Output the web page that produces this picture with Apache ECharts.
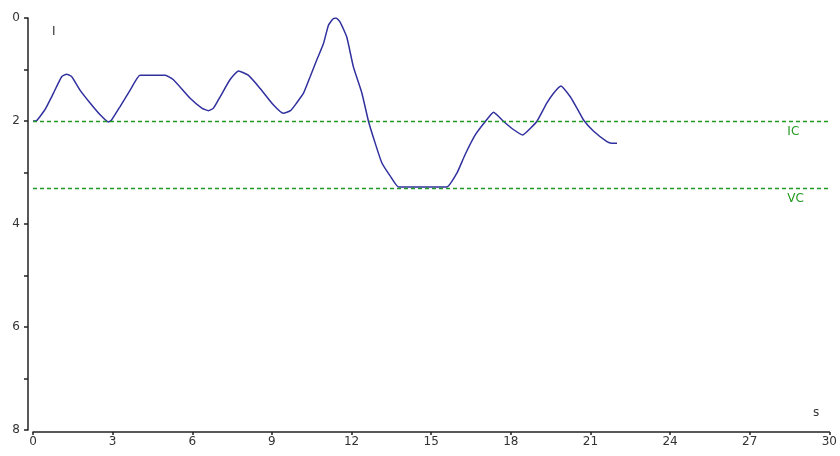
<!DOCTYPE html>
<html>
<head>
<meta charset="utf-8">
<script src="https://cdn.jsdelivr.net/npm/echarts@6/dist/echarts.min.js"></script>
<style>html,body{margin:0;padding:0;background:#fff}#c{width:840px;height:456px}</style>
</head>
<body>
<div id="c"></div>
<script>
// time (s)
const times = [0,0.14,0.45,0.77,1.08,1.27,1.46,1.77,2.15,2.53,2.84,2.96,3.28,3.66,4.03,4.5,4.98,5.29,5.92,6.36,6.61,6.8,7.05,7.42,7.74,8.11,8.56,9.06,9.43,9.7,9.93,10.19,10.44,10.7,10.94,11.13,11.3,11.42,11.57,11.82,12.07,12.39,12.64,12.89,13.14,13.46,13.77,15.59,15.97,16.28,16.66,17.04,17.35,17.73,18.11,18.45,18.74,18.99,19.36,19.61,19.89,20.24,20.49,20.74,21.12,21.62,21.8,22.0];
// I values
const values = [2.0,1.99,1.78,1.46,1.14,1.09,1.14,1.40,1.65,1.88,2.02,1.98,1.72,1.40,1.11,1.11,1.11,1.20,1.56,1.75,1.80,1.75,1.53,1.20,1.03,1.11,1.37,1.69,1.85,1.80,1.65,1.46,1.14,0.80,0.50,0.14,0.02,0.0,0.08,0.37,0.95,1.46,2.01,2.43,2.81,3.07,3.28,3.28,3.01,2.65,2.27,2.01,1.83,2.01,2.17,2.27,2.14,2.0,1.65,1.46,1.32,1.53,1.75,1.98,2.20,2.40,2.43,2.43];
const refNames = ['IC','VC'];
const refValues = [2.0, 3.3];
const xTicks = {min:0, max:30, interval:3};
const yTicks = {min:0, max:8, interval:1, labelEvery:2};

const font = 'DejaVu Sans';
const chart = echarts.init(document.getElementById('c'));
chart.setOption({
  animation:false,
  backgroundColor:'#fff',
  grid:{left:33, right:10, top:18, bottom:26},
  xAxis:{
    type:'value', min:xTicks.min, max:xTicks.max, interval:xTicks.interval, offset:2,
    axisLine:{show:true, onZero:false, lineStyle:{color:'#222', width:1.5}},
    axisTick:{show:true, length:3, lineStyle:{color:'#222', width:1.5}},
    splitLine:{show:false},
    axisLabel:{color:'#333', fontFamily:font, fontSize:12, margin:4},
    name:'s', nameLocation:'end', nameGap:0,
    nameTextStyle:{color:'#333', fontFamily:font, fontSize:12, align:'right', verticalAlign:'bottom', padding:[0,10,13,0]}
  },
  yAxis:{
    type:'value', inverse:true, min:yTicks.min, max:yTicks.max, interval:yTicks.interval, offset:5,
    axisLine:{show:true, onZero:false, lineStyle:{color:'#222', width:1.5}},
    axisTick:{show:true, length:4, lineStyle:{color:'#222', width:1.5}},
    splitLine:{show:false},
    axisLabel:{color:'#333', fontFamily:font, fontSize:12, margin:8,
      formatter:v => (v % yTicks.labelEvery === 0 ? String(v) : '')},
    name:'I', nameLocation:'start', nameGap:0,
    nameTextStyle:{color:'#333', fontFamily:font, fontSize:12, align:'left', verticalAlign:'top', padding:[8,0,0,24]}
  },
  series:[{
    type:'line',
    data: times.map((t,i)=>[t, values[i]]),
    showSymbol:false,
    smooth:0.15,
    lineStyle:{color:'#30309e', width:1.5},
    markLine:{
      silent:true, symbol:'none',
      lineStyle:{color:'#229922', type:[4,3], width:1.4},
      label:{show:true, position:'insideEndBottom', color:'#229922', fontFamily:font, fontSize:12, distance:[42,5],
        align:'left', formatter:p => p.name},
      data: refValues.map((v,i)=>({name:refNames[i], yAxis:v}))
    }
  }]
});
</script>
</body>
</html>
